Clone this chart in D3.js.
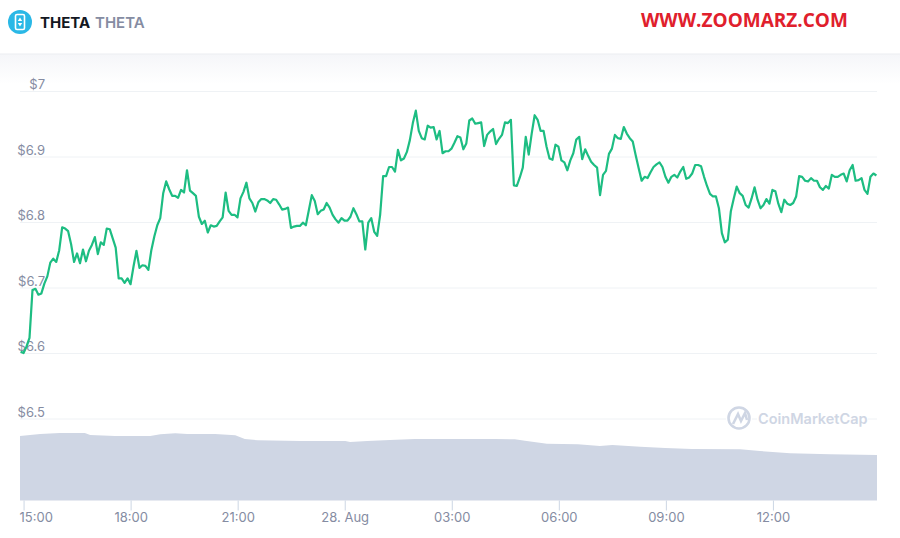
<!DOCTYPE html>
<html>
<head>
<meta charset="utf-8">
<script src="https://cdn.jsdelivr.net/npm/d3@7"></script>
<style>
html, body { margin: 0; padding: 0; background: #fff; overflow: hidden; }
#chart { width: 900px; height: 538px; }
text { font-family: Inter, "Open Sans", sans-serif; }
</style>
</head>
<body>
<div id="chart"></div>
<script>
// 5 minute prices, 27 Aug 14:55 -> 28 Aug 14:54
const prices = [
6.602,6.600,6.610,6.623,6.696,6.698,6.689,6.691,6.706,6.717,6.738,6.744,6.739,6.757,6.792,6.790,6.786,6.766,6.739,6.752,
6.737,6.758,6.740,6.756,6.765,6.777,6.751,6.769,6.765,6.790,6.789,6.775,6.761,6.714,6.714,6.707,6.714,6.705,6.732,6.756,
6.730,6.734,6.733,6.727,6.757,6.778,6.795,6.806,6.844,6.862,6.850,6.840,6.840,6.837,6.849,6.845,6.879,6.848,6.844,6.840,
6.808,6.797,6.802,6.784,6.795,6.793,6.794,6.801,6.807,6.845,6.817,6.811,6.811,6.807,6.836,6.846,6.860,6.836,6.829,6.816,
6.830,6.835,6.835,6.833,6.829,6.835,6.834,6.827,6.819,6.820,6.822,6.791,6.793,6.794,6.794,
6.799,6.795,6.818,6.841,6.832,6.812,6.817,6.819,6.829,6.822,6.811,6.804,6.799,6.806,6.802,6.802,6.808,6.821,6.812,6.801,
6.801,6.758,6.799,6.806,6.785,6.779,6.811,6.870,6.870,6.884,6.884,6.877,6.910,6.894,6.897,6.907,6.925,6.951,6.970,6.939,
6.928,6.926,6.947,6.944,6.945,6.926,6.939,6.905,6.908,6.908,6.912,6.921,6.931,6.929,6.911,6.920,6.955,6.958,6.950,6.951,
6.952,6.916,6.933,6.938,6.942,6.919,6.927,6.933,6.952,6.951,6.956,6.856,6.855,6.868,6.883,6.930,6.903,6.935,6.963,6.956,
6.939,6.939,6.915,6.897,6.895,6.918,6.915,6.894,6.891,6.879,6.894,6.905,6.926,6.930,6.896,6.911,6.901,6.892,6.887,6.883,
6.841,6.872,6.878,6.904,6.912,6.933,6.928,6.927,6.945,6.935,6.928,6.923,6.902,6.882,6.863,6.869,6.867,6.876,6.884,6.888,
6.891,6.884,6.869,6.860,6.869,6.872,6.868,6.877,6.884,6.866,6.868,6.874,6.887,6.887,6.885,6.869,6.855,6.843,6.839,6.839,
6.821,6.783,6.769,6.773,6.816,6.836,6.854,6.844,6.840,6.826,6.822,6.836,6.853,6.834,6.821,6.826,6.835,6.828,6.849,6.847,
6.828,6.815,6.834,6.828,6.826,6.829,6.839,6.870,6.869,6.863,6.862,6.867,6.863,6.863,6.853,6.849,6.855,6.851,6.872,6.869,
6.869,6.872,6.874,6.862,6.879,6.887,6.863,6.864,6.867,6.849,6.843,6.869,6.874,6.871
]
// volume outline, minutes after 27 Aug 15:00 and relative height
const volumeMinutes = [-6,11,28,61,103,112,154,213,230,255,275,288,322,356,372,394,465,541,549,578,616,658,793,826,843,880,932,969,990,1037,1079,1124,1205,1238,1289,1356,1435]
const volumes = [64.5,65.5,66.5,67.5,67.5,65.5,64.5,64.5,66.2,67.2,66.5,66.5,66.5,65.2,61.5,60.2,59.5,59.5,58.5,59.5,60.5,61.5,61.5,61.2,59.8,56.8,56.2,54.5,55.5,53.8,52.5,51.5,51.2,49.5,47.2,46.2,45.5]
const priceTicks = [6.5, 6.6, 6.7, 6.8, 6.9, 7]
const timeTicks = [new Date(2020,7,27,15), new Date(2020,7,27,18), new Date(2020,7,27,21), new Date(2020,7,28,0),
                   new Date(2020,7,28,3), new Date(2020,7,28,6), new Date(2020,7,28,9), new Date(2020,7,28,12)]
const timeLabels = ["15:00", "18:00", "21:00", "28. Aug", "03:00", "06:00", "09:00", "12:00"]

const width = 900
const height = 538
const start = new Date(2020,7,27,14,54)
const end = new Date(2020,7,28,14,55)
const firstPrice = new Date(2020,7,27,14,55)
const priceStep = 1439 / (prices.length - 1)

const xScale = d3.scaleTime().domain([start, end]).range([20, 877])
const yScale = d3.scaleLinear().domain([6.5, 7]).range([418.5, 91])
const volScale = d3.scaleLinear().domain([0, 100]).range([500.5, 400.5])

const svg = d3.select('#chart').append('svg')
  .attr('width', width)
  .attr('height', height)

const defs = svg.append('defs')
const grad = defs.append('linearGradient').attr('id', 'headShadow')
  .attr('x1', 0).attr('x2', 0).attr('y1', 0).attr('y2', 1)
grad.append('stop').attr('offset', 0).attr('stop-color', '#f5f6f9')
grad.append('stop').attr('offset', 1).attr('stop-color', '#ffffff')

svg.append('rect').attr('width', width).attr('height', height).attr('fill', '#fff')
svg.append('rect').attr('x', 0).attr('y', 54).attr('width', width).attr('height', 30).attr('fill', 'url(#headShadow)')
svg.append('rect').attr('x', 0).attr('y', 53.5).attr('width', width).attr('height', 1).attr('fill', '#eceef2')

// header
const icon = svg.append('g').attr('transform', 'translate(20,22)')
icon.append('circle').attr('r', 12).attr('fill', '#2ab8e6')
icon.append('rect').attr('x', -4.5).attr('y', -7.5).attr('width', 9).attr('height', 15).attr('rx', 1.5)
  .attr('fill', 'none').attr('stroke', '#fff').attr('stroke-width', 1.6)
icon.append('path').attr('d', 'M0,-4.5L2.2,-1H-2.2ZM0,4.5L2.2,1H-2.2Z').attr('fill', '#fff')

svg.append('text').attr('x', 40).attr('y', 28).attr('font-size', 15).attr('font-weight', 700)
  .attr('fill', '#131722').text('THETA')
svg.append('text').attr('x', 95).attr('y', 28).attr('font-size', 15).attr('font-weight', 600)
  .attr('fill', '#858ca2').text('THETA')
svg.append('text').attr('x', 641).attr('y', 27).attr('font-size', 19).attr('font-weight', 700)
  .style('font-family', '"Open Sans", sans-serif')
  .attr('fill', '#e0202c').text('WWW.ZOOMARZ.COM')

// y axis, grid lines with the labels sitting on top of them
const yAxis = d3.axisRight(yScale).tickValues(priceTicks).tickSize(857).tickFormat(d => '$' + d)
const yG = svg.append('g').attr('transform', 'translate(20,0)').call(yAxis)
yG.select('.domain').remove()
yG.selectAll('line').attr('stroke', '#eff2f5')
yG.selectAll('text').attr('x', 25).attr('dy', -2.5).attr('text-anchor', 'end')
  .attr('font-size', 13).attr('fill', '#858ca2').style('font-family', 'Inter, sans-serif')

// watermark
const mark = svg.append('g')
mark.append('rect').attr('x', 726).attr('y', 405).attr('width', 26).attr('height', 25).attr('fill', '#fff')
mark.append('rect').attr('x', 757).attr('y', 405).attr('width', 111).attr('height', 25).attr('fill', '#fff')
mark.append('circle').attr('cx', 739).attr('cy', 418).attr('r', 10.5).attr('fill', 'none')
  .attr('stroke', '#cfd6e4').attr('stroke-width', 2.6)
mark.append('path').attr('d', 'M733,424L738,414L741,421L745,413L747,420').attr('fill', 'none')
  .attr('stroke', '#cfd6e4').attr('stroke-width', 2.6)
mark.append('text').attr('x', 758).attr('y', 424).attr('font-size', 14.5).attr('font-weight', 600)
  .attr('fill', '#cfd6e4').text('CoinMarketCap')

// volume
const volumeData = volumeMinutes.map((m, i) => ({ t: d3.timeMinute.offset(timeTicks[0], m), v: volumes[i] }))
svg.append('path').datum(volumeData)
  .attr('fill', '#cfd6e4')
  .attr('d', d3.area().x(d => xScale(d.t)).y0(volScale(0)).y1(d => volScale(d.v)))

// x axis
const xAxis = d3.axisBottom(xScale).tickValues(timeTicks).tickSize(10).tickPadding(2)
  .tickFormat((d, i) => timeLabels[i])
const xG = svg.append('g').attr('transform', 'translate(0,500.5)').call(xAxis)
xG.select('.domain').remove()
xG.selectAll('line').attr('stroke', '#ccd6e4')
xG.selectAll('text').attr('font-size', 13).attr('fill', '#858ca2').style('font-family', 'Inter, sans-serif')
// first label gets pushed inside the plot
xG.selectAll('text').filter((d, i) => i === 0).attr('text-anchor', 'start').attr('x', -4.5)

// price line
const line = d3.line()
  .x((d, i) => xScale(d3.timeSecond.offset(firstPrice, i * priceStep * 60)))
  .y(d => yScale(d))
svg.append('path').datum(prices)
  .attr('fill', 'none')
  .attr('stroke', '#1dbd82')
  .attr('stroke-width', 2.2)
  .attr('stroke-linejoin', 'round')
  .attr('d', line)
</script>
</body>
</html>
